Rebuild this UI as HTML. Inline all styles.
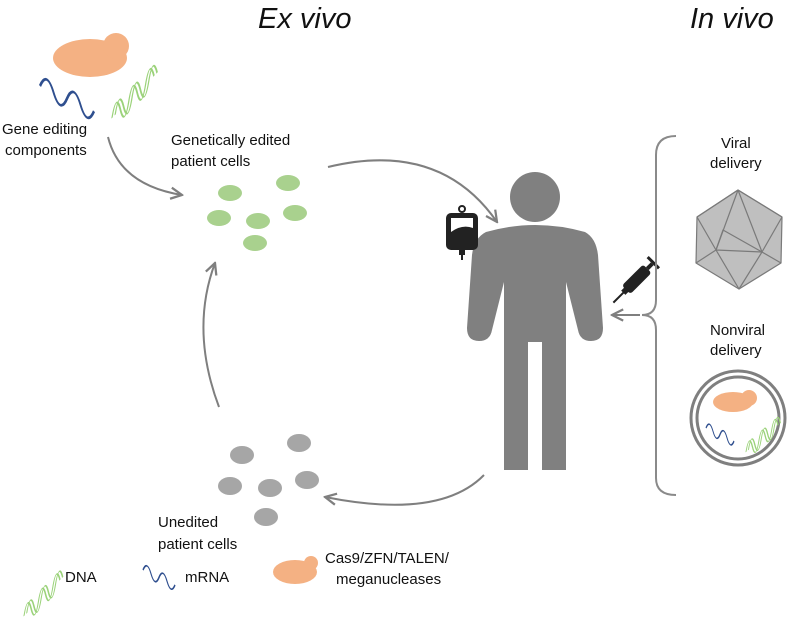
<!DOCTYPE html>
<html><head><meta charset="utf-8"><style>
html,body{margin:0;padding:0;background:#fff;}
svg{display:block;}
text{font-family:"Liberation Sans","DejaVu Sans",sans-serif;fill:#111;}
</style></head><body>
<svg width="799" height="623" viewBox="0 0 799 623" xmlns="http://www.w3.org/2000/svg">
<defs>
<marker id="ah" viewBox="0 0 10 10" refX="9" refY="5" markerWidth="7" markerHeight="7" orient="auto"><path d="M1,1 L9,5 L1,9" fill="none" stroke="#7f7f7f" stroke-width="1.6"/></marker>
<g id="dna" fill="none" stroke="#9bd27a" stroke-width="1.4">
<path d="M0,0 Q4,-22 8,0 T16,0 T24,0 T32,0 T40,0"/>
<path d="M3,0 Q7,-22 11,0 T19,0 T27,0 T35,0 T43,0"/>
</g>
<path id="rna" d="M0,0 Q5,-12 10,0 T20,0 T30,0 T40,0" fill="none" stroke="#2f4f8f" stroke-width="1.6"/>
</defs>
<text x="258" y="28" font-size="29" font-style="italic">Ex vivo</text>
<text x="690" y="28" font-size="29" font-style="italic">In vivo</text>

<!-- gene editing components -->
<ellipse cx="90" cy="58" rx="37" ry="19" fill="#f4b183"/>
<circle cx="116" cy="46" r="13" fill="#f4b183"/>
<use href="#rna" transform="translate(40,86) skewY(25) scale(1.35,1.6)"/>
<use href="#dna" transform="translate(112,118) skewY(-45) scale(1.05,1)"/>
<text x="2" y="134" font-size="15">Gene editing</text>
<text x="5" y="155" font-size="15">components</text>
<text x="171" y="145" font-size="15">Genetically edited</text>
<text x="171" y="166" font-size="15">patient cells</text>

<g fill="#a9d18e">
<ellipse cx="230" cy="193" rx="12" ry="8"/><ellipse cx="288" cy="183" rx="12" ry="8"/>
<ellipse cx="219" cy="218" rx="12" ry="8"/><ellipse cx="258" cy="221" rx="12" ry="8"/>
<ellipse cx="295" cy="213" rx="12" ry="8"/><ellipse cx="255" cy="243" rx="12" ry="8"/>
</g>
<g fill="#a6a6a6">
<ellipse cx="242" cy="455" rx="12" ry="9"/><ellipse cx="299" cy="443" rx="12" ry="9"/>
<ellipse cx="230" cy="486" rx="12" ry="9"/><ellipse cx="270" cy="488" rx="12" ry="9"/>
<ellipse cx="307" cy="480" rx="12" ry="9"/><ellipse cx="266" cy="517" rx="12" ry="9"/>
</g>
<text x="158" y="527" font-size="15">Unedited</text>
<text x="158" y="549" font-size="15">patient cells</text>

<!-- arrows -->
<g fill="none" stroke="#7f7f7f" stroke-width="2" marker-end="url(#ah)">
<path d="M108,137 Q120,185 182,195"/>
<path d="M328,167 Q440,140 497,222"/>
<path d="M484,475 Q440,520 325,497"/>
<path d="M219,407 Q190,330 215,263"/>
<path d="M640,315 L612,315"/>
</g>

<!-- person -->
<g fill="#808080">
<circle cx="535" cy="197" r="25"/>
<path d="M486,232 Q535,218 585,232 Q596,238 598,255 L603,328 Q603,341 591,341 Q580,341 578,330 L566,282 L566,470 L542,470 L542,342 L528,342 L528,470 L504,470 L504,282 L492,330 Q490,341 479,341 Q467,341 467,328 L472,255 Q474,238 486,232 Z"/>
</g>

<!-- IV bag -->
<g fill="#222">
<circle cx="462" cy="209" r="3" fill="none" stroke="#222" stroke-width="2"/>
<rect x="446" y="213" width="32" height="37" rx="5"/>
<path d="M451,218 L473,218 L473,228 Q462,224 451,232 Z" fill="#fff"/>
<rect x="459" y="250" width="6" height="5"/><rect x="461" y="255" width="2" height="5"/>
</g>
<!-- syringe -->
<g transform="translate(636,280) rotate(-45)" fill="#222">
<rect x="-14" y="-6" width="30" height="12" rx="3"/>
<rect x="16" y="-2" width="7" height="4"/>
<rect x="23" y="-8" width="3" height="16"/>
<rect x="-18" y="-3" width="5" height="6"/>
<rect x="-32" y="-1" width="15" height="2"/>
</g>

<!-- brace -->
<path d="M676,136 Q656,136 656,155 L656,300 Q656,315 642,315 Q656,315 656,330 L656,478 Q656,495 676,495" fill="none" stroke="#8a8a8a" stroke-width="2"/>

<text x="721" y="148" font-size="15">Viral</text>
<text x="710" y="168" font-size="15">delivery</text>
<!-- icosahedron -->
<g stroke="#7a7a7a" stroke-width="1.2" fill="#bfbfbf" stroke-linejoin="round">
<polygon points="738,190 782,217 781,263 739,289 696,263 697,217"/>
<path d="M738,190 L716,250 L762,252 L738,190 M697,217 L716,250 L696,263 M782,217 L762,252 L781,263 M716,250 L739,289 L762,252 M738,190 L697,217 M738,190 L782,217" fill="none"/>
<path d="M716,250 L723,230 L762,252" fill="none"/>
</g>

<text x="710" y="335" font-size="15">Nonviral</text>
<text x="710" y="355" font-size="15">delivery</text>
<circle cx="738" cy="418" r="47" fill="#fff" stroke="#7f7f7f" stroke-width="3"/>
<circle cx="738" cy="418" r="41" fill="#fff" stroke="#7f7f7f" stroke-width="3"/>
<ellipse cx="733" cy="402" rx="20" ry="10" fill="#f4b183"/>
<circle cx="749" cy="398" r="8" fill="#f4b183"/>
<use href="#rna" transform="translate(706,428) skewY(25) scale(0.7,0.9)"/>
<use href="#dna" transform="translate(746,452) skewY(-40) scale(0.8,0.75)"/>

<!-- legend -->
<use href="#dna" transform="translate(24,616) skewY(-45) scale(0.9,0.85)"/>
<text x="65" y="582" font-size="15">DNA</text>
<use href="#rna" transform="translate(143,570) skewY(25) scale(0.8,1)"/>
<text x="185" y="582" font-size="15">mRNA</text>
<ellipse cx="295" cy="572" rx="22" ry="12" fill="#f4b183"/>
<circle cx="311" cy="563" r="7" fill="#f4b183"/>
<text x="325" y="563" font-size="15">Cas9/ZFN/TALEN/</text>
<text x="336" y="584" font-size="15">meganucleases</text>
</svg>
</body></html>
